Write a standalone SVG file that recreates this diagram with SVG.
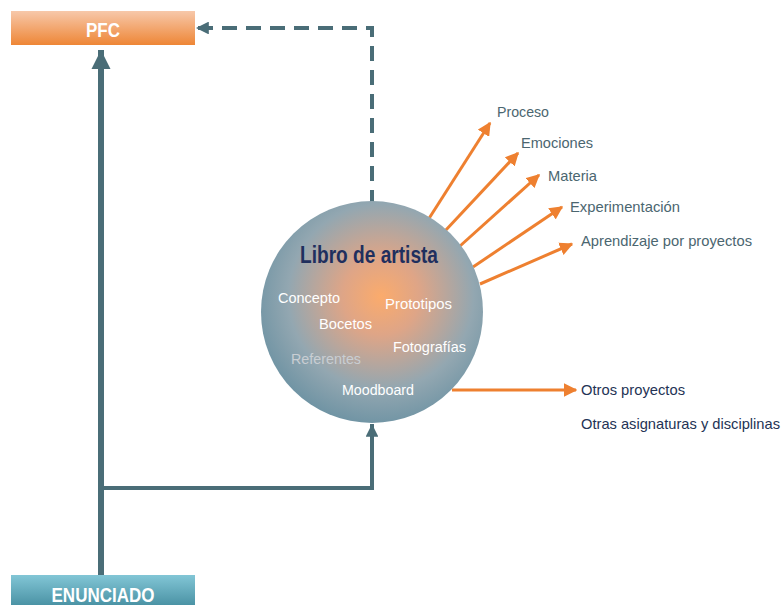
<svg xmlns="http://www.w3.org/2000/svg" width="784" height="605" viewBox="0 0 784 605">
<defs>
  <linearGradient id="gPFC" x1="0" y1="0" x2="0" y2="1">
    <stop offset="0" stop-color="#f7c8aa"/>
    <stop offset="1" stop-color="#ee8636"/>
  </linearGradient>
  <linearGradient id="gEnun" x1="0" y1="0" x2="0" y2="1">
    <stop offset="0" stop-color="#82c6d6"/>
    <stop offset="1" stop-color="#4b93a5"/>
  </linearGradient>
  <radialGradient id="gCircle" cx="0.54" cy="0.43" r="0.58">
    <stop offset="0" stop-color="#fbab6c"/>
    <stop offset="0.3" stop-color="#dea587"/>
    <stop offset="0.72" stop-color="#93a7b1"/>
    <stop offset="1" stop-color="#7094a4"/>
  </radialGradient>
  <marker id="mTeal" viewBox="0 0 10 10" refX="10" refY="5" markerWidth="3.2" markerHeight="3.2" markerUnits="strokeWidth" orient="auto">
    <path d="M0,0 L10,5 L0,10 z" fill="#4a6d77"/>
  </marker>
  <marker id="mOrange" viewBox="0 0 10 10" refX="9" refY="5" markerWidth="4.5" markerHeight="4.5" markerUnits="strokeWidth" orient="auto">
    <path d="M0,0 L10,5 L0,10 z" fill="#ee8030"/>
  </marker>
</defs>
<style>
  .teal { fill: none; stroke: #4a6d77; }
  .orange { fill: none; stroke: #ee8030; stroke-width: 3; }
  .box { font-family: "Liberation Sans", Arial, sans-serif; font-weight: bold; fill: #ffffff; text-anchor: middle; }
  .inner { font-family: "Liberation Sans", Arial, sans-serif; font-size: 14px; fill: #ffffff; }
  .lab { font-family: "Liberation Sans", Arial, sans-serif; font-size: 15px; fill: #4b6670; }
  .lab2 { font-family: "Liberation Sans", Arial, sans-serif; font-size: 15px; fill: #243355; }
</style>
<rect width="784" height="605" fill="#ffffff"/>

<g id="connectors">
  <path class="teal" d="M372,205 V28 H196" stroke-width="4" stroke-dasharray="15 9" marker-end="url(#mTeal)"/>
  <path class="teal" d="M101,575 V50" stroke-width="6" marker-end="url(#mTeal)"/>
  <path class="teal" d="M101,488 H372 V424" stroke-width="4" marker-end="url(#mTeal)"/>
  <line class="orange" x1="428" y1="220" x2="490" y2="123" marker-end="url(#mOrange)"/>
  <line class="orange" x1="445" y1="231" x2="518" y2="153" marker-end="url(#mOrange)"/>
  <line class="orange" x1="460" y1="246" x2="539" y2="175" marker-end="url(#mOrange)"/>
  <line class="orange" x1="473" y1="267" x2="562" y2="207" marker-end="url(#mOrange)"/>
  <line class="orange" x1="480" y1="284" x2="572" y2="244" marker-end="url(#mOrange)"/>
  <line class="orange" x1="452" y1="390" x2="576" y2="390" marker-end="url(#mOrange)"/>
</g>

<g id="pfc">
  <rect x="11" y="11" width="184" height="34" fill="url(#gPFC)"/>
  <text class="box" x="103" y="37" font-size="20" textLength="34" lengthAdjust="spacingAndGlyphs">PFC</text>
</g>

<g id="enunciado">
  <rect x="11" y="575" width="184" height="30" fill="url(#gEnun)"/>
  <text class="box" x="103" y="602" font-size="21" textLength="103" lengthAdjust="spacingAndGlyphs">ENUNCIADO</text>
</g>

<g id="libro">
  <circle cx="372" cy="312" r="111" fill="url(#gCircle)"/>
  <text x="300" y="263" font-family="Liberation Sans, Arial, sans-serif" font-size="23" font-weight="bold" fill="#1f2f5e" textLength="138" lengthAdjust="spacingAndGlyphs">Libro de artista</text>
  <text class="inner" x="278" y="303" textLength="62" lengthAdjust="spacingAndGlyphs">Concepto</text>
  <text class="inner" x="385" y="309" textLength="67" lengthAdjust="spacingAndGlyphs">Prototipos</text>
  <text class="inner" x="319" y="329" textLength="53" lengthAdjust="spacingAndGlyphs">Bocetos</text>
  <text class="inner" x="393" y="352" textLength="73" lengthAdjust="spacingAndGlyphs">Fotografías</text>
  <text class="inner" x="291" y="364" style="fill:#c9ced3" textLength="70" lengthAdjust="spacingAndGlyphs">Referentes</text>
  <text class="inner" x="342" y="395" textLength="72" lengthAdjust="spacingAndGlyphs">Moodboard</text>
</g>

<g id="labels">
  <text class="lab" x="497" y="117" textLength="52" lengthAdjust="spacingAndGlyphs">Proceso</text>
  <text class="lab" x="521" y="148" textLength="72" lengthAdjust="spacingAndGlyphs">Emociones</text>
  <text class="lab" x="548" y="181" textLength="49" lengthAdjust="spacingAndGlyphs">Materia</text>
  <text class="lab" x="570" y="212" textLength="110" lengthAdjust="spacingAndGlyphs">Experimentación</text>
  <text class="lab" x="581" y="246" textLength="171" lengthAdjust="spacingAndGlyphs">Aprendizaje por proyectos</text>
  <text class="lab2" x="581" y="395" textLength="104" lengthAdjust="spacingAndGlyphs">Otros proyectos</text>
  <text class="lab2" x="581" y="429" textLength="199" lengthAdjust="spacingAndGlyphs">Otras asignaturas y disciplinas</text>
</g>
</svg>
